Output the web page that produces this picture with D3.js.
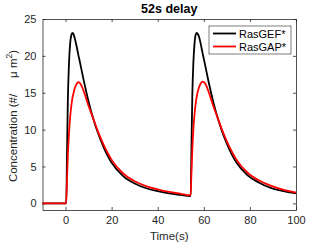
<!DOCTYPE html>
<html>
<head>
<meta charset="utf-8">
<script src="https://cdn.jsdelivr.net/npm/d3@7"></script>
<style>
  body { margin: 0; background: #fff; }
  svg text { font-family: "Liberation Sans", Arial, sans-serif; }
</style>
</head>
<body>
<script>
// time points (s) and the two series
var time = [-10, 0, 0.3, 0.6, 1, 1.5, 2, 2.5, 3, 3.5, 4, 5, 5.5, 6, 7, 8, 10, 12, 14, 16,
            18, 20, 25, 30, 35, 40, 45, 50, 54, 54.3, 54.6, 55, 55.5, 56, 56.5, 57, 57.5, 58, 59,
            59.5, 60, 61, 62, 64, 66, 68, 70, 72, 74, 79, 84, 89, 94, 100];
var rasGEF = [0, 0, 0, 6, 14, 19, 21.7, 22.8, 23.1, 22.9, 22.4, 21, 20.2, 19.5, 18, 16.5, 13.8, 11.5, 9.6, 8.0,
              6.6, 5.5, 3.7, 2.7, 2.05, 1.65, 1.35, 1.15, 1.0, 1.0, 6.8, 14.5, 19.3, 21.8, 22.9, 23.1, 22.9, 22.5, 21.1,
              20.3, 19.6, 18.1, 16.6, 13.9, 11.6, 9.7, 8.1, 6.7, 5.6, 3.8, 2.8, 2.1, 1.7, 1.35];
var rasGAP = [0, 0, 0, 3, 6.5, 9.5, 11.7, 13.2, 14.3, 15.0, 15.6, 16.3, 16.45, 16.4, 15.9, 15.1, 13.2, 11.5, 9.8, 8.3,
              7.0, 5.9, 4.05, 3.0, 2.35, 1.9, 1.55, 1.3, 1.1, 1.1, 3.8, 7.2, 10.2, 12.2, 13.6, 14.6, 15.3, 15.8, 16.4,
              16.5, 16.45, 16.0, 15.2, 13.3, 11.6, 9.9, 8.4, 7.1, 6.0, 4.15, 3.1, 2.4, 1.9, 1.45];
var xTicks = [0, 20, 40, 60, 80, 100];
var yTicks = [0, 5, 10, 15, 20, 25];
var seriesNames = ["RasGEF*", "RasGAP*"];
var seriesColors = ["#000000", "#ff0000"];

var W = 327, H = 245;
var m = {left: 42.5, right: 31, top: 19, bottom: 35};
var axisColor = "#262626";

var svg = d3.select("body").append("svg")
            .attr("width", W)
            .attr("height", H);

var x = d3.scaleLinear().domain([-10, 100]).range([m.left, W - m.right]);
var y = d3.scaleLinear().domain([-0.9, 25]).range([H - m.bottom, m.top]);

// axes (ticks inside, mirrored on top/right like the box)
var gx = svg.append("g")
            .attr("transform", "translate(0," + (H - m.bottom) + ")")
            .call(d3.axisBottom(x).tickValues(xTicks).tickSizeInner(-3).tickSizeOuter(0).tickPadding(6));
var gy = svg.append("g")
            .attr("transform", "translate(" + m.left + ",0)")
            .call(d3.axisLeft(y).tickValues(yTicks).tickSizeInner(-3).tickSizeOuter(0).tickPadding(6));
var gxt = svg.append("g")
             .attr("transform", "translate(0," + m.top + ")")
             .call(d3.axisTop(x).tickValues(xTicks).tickSizeInner(-3).tickSizeOuter(0).tickFormat(""));
var gyr = svg.append("g")
             .attr("transform", "translate(" + (W - m.right) + ",0)")
             .call(d3.axisRight(y).tickValues(yTicks).tickSizeInner(-3).tickSizeOuter(0).tickFormat(""));

[gx, gy, gxt, gyr].forEach(function(g) {
  g.selectAll("path, line").attr("stroke", axisColor).attr("stroke-width", 0.8);
  g.selectAll("text").attr("fill", axisColor).attr("font-size", 11)
   .attr("font-family", "Liberation Sans, Arial, sans-serif");
});

// lines
var line = d3.line().x(function(d) { return x(d[0]); }).y(function(d) { return y(d[1]); });
[rasGEF, rasGAP].forEach(function(vals, i) {
  svg.append("path")
     .datum(time.map(function(t, k) { return [t, vals[k]]; }))
     .attr("d", line.curve(d3.curveMonotoneX))
     .attr("fill", "none")
     .attr("stroke", seriesColors[i])
     .attr("stroke-width", 1.8)
     .attr("stroke-linejoin", "round");
});

// title and labels
svg.append("text")
   .attr("x", (m.left + W - m.right) / 2)
   .attr("y", 13)
   .attr("text-anchor", "middle")
   .attr("font-size", 12.5)
   .attr("font-weight", "bold")
   .attr("fill", "#000")
   .text("52s delay");

svg.append("text")
   .attr("x", (m.left + W - m.right) / 2)
   .attr("y", 240)
   .attr("text-anchor", "middle")
   .attr("font-size", 11.5)
   .attr("fill", axisColor)
   .text("Time(s)");

var yl = svg.append("text")
            .attr("transform", "translate(17,116) rotate(-90)")
            .attr("text-anchor", "middle")
            .attr("font-size", 11.5)
            .attr("fill", axisColor)
            .style("white-space", "pre");
yl.append("tspan").text("Concentration (#/     \u03bc m");
yl.append("tspan").attr("dy", -5).attr("font-size", 8.5).text("2");
yl.append("tspan").attr("dy", 5).text(")");

// legend
var lg = svg.append("g").attr("transform", "translate(209,26)");
lg.append("rect")
  .attr("width", 82).attr("height", 28)
  .attr("fill", "#fff")
  .attr("stroke", axisColor)
  .attr("stroke-width", 0.6);
seriesNames.forEach(function(name, i) {
  var yy = 7.5 + i * 13;
  lg.append("line")
    .attr("x1", 4).attr("x2", 27)
    .attr("y1", yy).attr("y2", yy)
    .attr("stroke", seriesColors[i])
    .attr("stroke-width", 1.8);
  lg.append("text")
    .attr("x", 30).attr("y", yy + 4)
    .attr("font-size", 11)
    .attr("fill", "#000")
    .text(name);
});
</script>
</body>
</html>
